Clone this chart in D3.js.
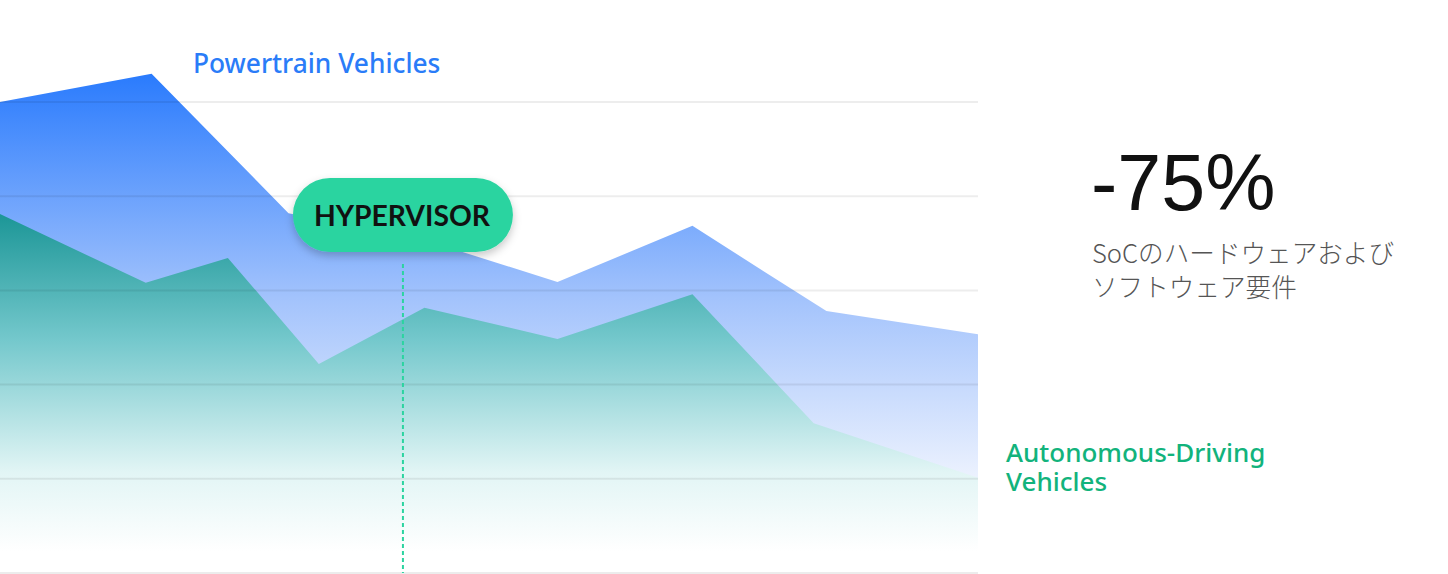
<!DOCTYPE html>
<html>
<head>
<meta charset="utf-8">
<script src="https://cdn.jsdelivr.net/npm/d3@7"></script>
<style>
  html, body { margin: 0; padding: 0; background: #fff; }
  svg { display: block; }
</style>
</head>
<body>
<div id="chart"></div>
<script>
// data (x in arbitrary time units 0..100, y in share units 0..100)
const powertrainX = [0, 15.5, 29.5, 43.4, 57, 70.8, 84.5, 100];
const powertrainY = [100, 106, 76.4, 70.7, 61.8, 73.7, 55.6, 50.7];
const autonomousX = [0, 14.9, 23.3, 32.6, 43.4, 57, 70.8, 83.2, 100];
const autonomousY = [76.2, 61.6, 66.9, 44.4, 56.3, 49.7, 59.2, 31.8, 20.2];
const gridValues = [0, 20, 40, 60, 80, 100];
const markerX = 41.2;
const markerLabel = 'HYPERVISOR';
const powertrainLabel = 'Powertrain Vehicles';
const autonomousLabel = ['Autonomous-Driving', 'Vehicles'];
const bigNumber = '-75%';
const bigCaption = ['SoCのハードウェアおよび', 'ソフトウェア要件'];

const width = 1448;
const height = 574;

const x = d3.scaleLinear().domain([0, 100]).range([0, 978]);
const y = d3.scaleLinear().domain([0, 100]).range([573, 102]);

const svg = d3.select('#chart')
    .append('svg')
    .attr('width', width)
    .attr('height', height);

const defs = svg.append('defs');

const blueGrad = defs.append('linearGradient')
    .attr('id', 'blue-grad')
    .attr('gradientUnits', 'userSpaceOnUse')
    .attr('x1', 0).attr('x2', 0)
    .attr('y1', y(106)).attr('y2', y(0));
blueGrad.append('stop').attr('offset', '0%').attr('stop-color', '#2a7bfd');
blueGrad.append('stop').attr('offset', '45%').attr('stop-color', '#a3c3fc');
blueGrad.append('stop').attr('offset', '82%').attr('stop-color', '#eef3fe');
blueGrad.append('stop').attr('offset', '100%').attr('stop-color', '#ffffff');

const greenGrad = defs.append('linearGradient')
    .attr('id', 'green-grad')
    .attr('gradientUnits', 'userSpaceOnUse')
    .attr('x1', 0).attr('x2', 0)
    .attr('y1', y(76.2)).attr('y2', y(0));
greenGrad.append('stop').attr('offset', '0%').attr('stop-color', '#1c9697');
greenGrad.append('stop').attr('offset', '35%').attr('stop-color', '#74c8cc');
greenGrad.append('stop').attr('offset', '72%').attr('stop-color', '#e2f5f5');
greenGrad.append('stop').attr('offset', '94%').attr('stop-color', '#ffffff');

const shadow = defs.append('filter')
    .attr('id', 'pill-shadow')
    .attr('x', '-20%').attr('y', '-30%')
    .attr('width', '140%').attr('height', '170%');
shadow.append('feDropShadow')
    .attr('dx', 0).attr('dy', 4)
    .attr('stdDeviation', 4)
    .attr('flood-color', '#000')
    .attr('flood-opacity', 0.22);

const area = d3.area()
    .x(d => x(d[0]))
    .y0(y(0))
    .y1(d => y(d[1]));

svg.append('path')
    .datum(d3.zip(powertrainX, powertrainY))
    .attr('d', area)
    .attr('fill', 'url(#blue-grad)');

svg.append('path')
    .datum(d3.zip(autonomousX, autonomousY))
    .attr('d', area)
    .attr('fill', 'url(#green-grad)');

// grid lines drawn over the areas
svg.append('g')
    .selectAll('line')
    .data(gridValues)
    .enter()
    .append('line')
    .attr('x1', x(0))
    .attr('x2', x(100))
    .attr('y1', d => y(d))
    .attr('y2', d => y(d))
    .attr('stroke', d => d === 0 ? '#ececec' : 'rgba(0,0,0,0.07)')
    .attr('stroke-width', 2);

// marker line + pill
svg.append('line')
    .attr('x1', x(markerX)).attr('x2', x(markerX))
    .attr('y1', 264).attr('y2', y(0))
    .attr('stroke', '#2cd4a0')
    .attr('stroke-width', 2)
    .attr('stroke-dasharray', '4,3');

const pill = svg.append('g')
    .attr('transform', `translate(${x(markerX)}, 215)`);
pill.append('rect')
    .attr('x', -110).attr('y', -37)
    .attr('width', 220).attr('height', 74)
    .attr('rx', 37).attr('ry', 37)
    .attr('fill', '#2cd4a0')
    .attr('filter', 'url(#pill-shadow)');
pill.append('text')
    .attr('text-anchor', 'middle')
    .attr('x', -1)
    .attr('y', 10.5)
    .attr('font-family', 'Lato, "Open Sans", sans-serif')
    .attr('font-weight', 700)
    .attr('font-size', 28.3)
    .attr('fill', '#111')
    .text(markerLabel);

// series labels
svg.append('text')
    .attr('x', 193).attr('y', 73)
    .attr('font-family', '"Noto Sans", "Open Sans", sans-serif')
    .attr('font-weight', 500)
    .attr('font-size', 26.3)
    .attr('fill', '#2a7cf8')
    .text(powertrainLabel);

svg.append('g')
    .selectAll('text')
    .data(autonomousLabel)
    .enter()
    .append('text')
    .attr('x', 1006)
    .attr('y', (d, i) => 462 + i * 29)
    .attr('font-family', '"Noto Sans", "Open Sans", sans-serif')
    .attr('font-weight', 500)
    .attr('font-size', 26)
    .attr('fill', '#12b37c')
    .text(d => d);

// right side stat
svg.append('text')
    .attr('x', 1091).attr('y', 210)
    .attr('font-family', '"Liberation Sans", Arial, sans-serif')
    .attr('font-size', 79)
    .attr('fill', '#111')
    .text(bigNumber);

svg.append('g')
    .selectAll('text')
    .data(bigCaption)
    .enter()
    .append('text')
    .attr('x', 1092)
    .attr('y', (d, i) => 263 + i * 34)
    .attr('font-family', '"Noto Sans CJK JP", sans-serif')
    .attr('font-weight', 300)
    .attr('font-size', 25.6)
    .attr('fill', '#555')
    .text(d => d);
</script>
</body>
</html>
